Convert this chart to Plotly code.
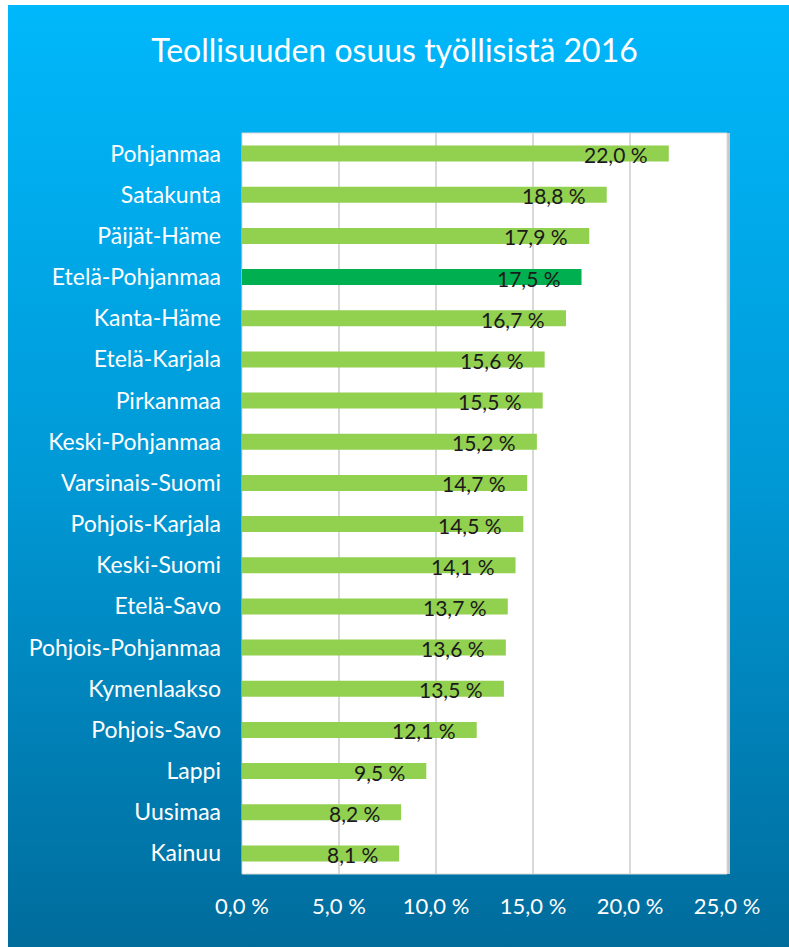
import base64
import plotly.graph_objects as go

regions = ["Pohjanmaa", "Satakunta", "Päijät-Häme", "Etelä-Pohjanmaa", "Kanta-Häme",
           "Etelä-Karjala", "Pirkanmaa", "Keski-Pohjanmaa", "Varsinais-Suomi",
           "Pohjois-Karjala", "Keski-Suomi", "Etelä-Savo", "Pohjois-Pohjanmaa",
           "Kymenlaakso", "Pohjois-Savo", "Lappi", "Uusimaa", "Kainuu"]
shares = [22.0, 18.8, 17.9, 17.5, 16.7, 15.6, 15.5, 15.2, 14.7, 14.5, 14.1,
          13.7, 13.6, 13.5, 12.1, 9.5, 8.2, 8.1]
highlight = "Etelä-Pohjanmaa"
tick_vals = [0, 5, 10, 15, 20, 25]
tick_text = ["0,0 %", "5,0 %", "10,0 %", "15,0 %", "20,0 %", "25,0 %"]
title_text = "Teollisuuden osuus työllisistä 2016"

W, H = 789, 947
FONT = "Lato"

colors = ["#00B050" if r == highlight else "#92D050" for r in regions]
labels = [f"{v:.1f}".replace(".", ",") + " %" for v in shares]

svg = f'''<svg xmlns="http://www.w3.org/2000/svg" width="{W}" height="{H}" viewBox="0 0 {W} {H}" preserveAspectRatio="none">
<defs><linearGradient id="g" x1="0" y1="0" x2="0" y2="1">
<stop offset="0" stop-color="#00B8FB"/>
<stop offset="0.5" stop-color="#0099D6"/>
<stop offset="1" stop-color="#006C9C"/>
</linearGradient></defs>
<rect x="8" y="5" width="{W-8}" height="{H-5}" fill="url(#g)"/>
</svg>'''
src = "data:image/svg+xml;base64," + base64.b64encode(svg.encode()).decode()

fig = go.Figure(go.Bar(
    x=shares, y=regions, orientation="h",
    marker=dict(color=colors, line=dict(width=0)),
    hoverinfo="skip",
))

for r, v, t in zip(regions, shares, labels):
    fig.add_annotation(x=v, y=r, text=t, showarrow=False, xanchor="right",
                       xshift=-19, yshift=-1,
                       font=dict(family=FONT, size=21, color="#1a1a1a"))

L, R, T, B = 242, 727, 133, 874
fig.add_shape(type="rect", xref="paper", yref="paper",
              x0=L / W, x1=R / W + 3 / W, y0=1 - B / H, y1=1 - T / H,
              fillcolor="#C8C8C8", line=dict(width=0), layer="below")
fig.add_shape(type="rect", xref="paper", yref="paper",
              x0=L / W, x1=R / W, y0=1 - B / H, y1=1 - T / H,
              fillcolor="white", line=dict(color="#D9D9D9", width=1), layer="below")

fig.update_layout(
    width=W, height=H,
    margin=dict(l=0, r=0, t=0, b=0, autoexpand=False),
    paper_bgcolor="white",
    plot_bgcolor="white",
    bargap=0.61,
    showlegend=False,
    images=[dict(source=src, xref="paper", yref="paper", x=0, y=1,
                 sizex=1, sizey=1, xanchor="left", yanchor="top",
                 sizing="stretch", layer="below")],
    title=dict(text=title_text, x=0.5, xanchor="center", y=1 - 51 / H,
               yanchor="middle", font=dict(family=FONT, size=32, color="white")),
    xaxis=dict(domain=[L / W, R / W], range=[0, 25], tickvals=tick_vals,
               ticktext=tick_text, showgrid=True, gridcolor="#D9D9D9",
               gridwidth=2, zeroline=False, showline=False,
               ticks="", ticklabelstandoff=17, automargin=False,
               tickfont=dict(family=FONT, size=22, color="white"), fixedrange=True),
    yaxis=dict(domain=[1 - B / H, 1 - T / H], autorange="reversed",
               showgrid=False, zeroline=False, showline=False, ticks="",
               ticklabelstandoff=20, automargin=False,
               tickfont=dict(family=FONT, size=23, color="white"), fixedrange=True),
)

fig.write_html("out.html", config={"displayModeBar": False, "staticPlot": True},
               post_script="document.body.style.margin='0';document.body.style.overflow='hidden';")
